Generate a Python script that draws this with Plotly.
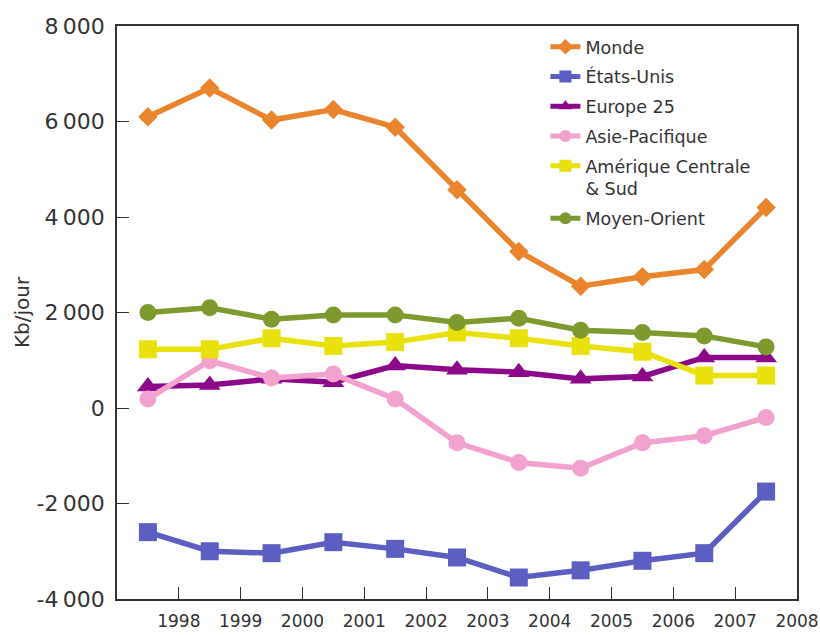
import plotly.graph_objects as go

# Data years (points plotted at mid-year)
years = [1997, 1998, 1999, 2000, 2001, 2002, 2003, 2004, 2005, 2006, 2007]
x_mid = [y + 0.5 for y in years]

monde = [6100, 6700, 6030, 6250, 5880, 4570, 3280, 2550, 2750, 2900, 4200]
etats_unis = [-2600, -3000, -3040, -2810, -2950, -3130, -3550, -3400, -3200, -3040, -1750]
europe25 = [450, 480, 610, 540, 890, 800, 750, 610, 660, 1060, 1060]
asie_pacifique = [190, 990, 630, 710, 190, -730, -1140, -1260, -730, -580, -200]
amerique_cs = [1230, 1230, 1460, 1300, 1380, 1580, 1460, 1300, 1180, 680, 680]
moyen_orient = [2000, 2100, 1860, 1950, 1950, 1790, 1880, 1630, 1580, 1510, 1280]

y_tickvals = [-4000, -2000, 0, 2000, 4000, 6000, 8000]
y_ticktext = ["-4\u2009000", "-2\u2009000", "0", "2\u2009000", "4\u2009000", "6\u2009000", "8\u2009000"]
x_tickvals = [1998, 1999, 2000, 2001, 2002, 2003, 2004, 2005, 2006, 2007, 2008]

series = [
    ("Monde", monde, "#EA842D", "diamond", 15),
    ("États-Unis", etats_unis, "#5C5FC1", "square", 18),
    ("Europe 25", europe25, "#8C0A8A", "triangle-up", 19),
    ("Asie-Pacifique", asie_pacifique, "#F2A2CE", "circle", 17),
    ("Amérique Centrale<br>& Sud", amerique_cs, "#E8E10C", "square", 18),
    ("Moyen-Orient", moyen_orient, "#7E9A2F", "circle", 17),
]

fig = go.Figure()
for i, (name, vals, color, sym, size) in enumerate(series):
    fig.add_trace(go.Scatter(
        x=x_mid, y=vals, name=name, mode="lines+markers",
        line=dict(color=color, width=5.5),
        marker=dict(color=color, symbol=sym, size=size),
        legendgroup="g%d" % i,
    ))

font_family = "DejaVu Sans, Arial, sans-serif"
fig.update_layout(
    width=820, height=635,
    margin=dict(l=117, r=23, t=26, b=36, autoexpand=False),
    paper_bgcolor="white", plot_bgcolor="white",
    font=dict(family=font_family, color="#333333"),
    showlegend=True,
    legend=dict(
        x=0.63, y=0.995, xanchor="left", yanchor="top",
        font=dict(size=17.5, color="#333333", family=font_family),
        bgcolor="rgba(0,0,0,0)", itemsizing="constant",
        tracegroupgap=4, traceorder="grouped", valign="top",
    ),
    xaxis=dict(
        range=[1997, 2008], tickvals=x_tickvals, ticktext=[str(v) for v in x_tickvals],
        ticks="inside", ticklen=12, tickcolor="#333333", tickwidth=1.3,
        showline=True, linecolor="#333333", linewidth=1.5, mirror=True,
        showgrid=False, zeroline=False, automargin=False,
        tickfont=dict(size=17, family=font_family, color="#333333"),
        ticklabelstandoff=6,
    ),
    yaxis=dict(
        range=[-4000, 8000], tickvals=y_tickvals, ticktext=y_ticktext,
        ticks="inside", ticklen=12, tickcolor="#333333", tickwidth=1.3,
        showline=True, linecolor="#333333", linewidth=1.5, mirror=True,
        showgrid=False, zeroline=False, automargin=False,
        tickfont=dict(size=22, family=font_family, color="#333333"),
        ticklabelstandoff=6,
        title=dict(text="Kb/jour", font=dict(size=20, family=font_family, color="#333333"), standoff=2),
    ),
)

fig.write_html("out.html")
